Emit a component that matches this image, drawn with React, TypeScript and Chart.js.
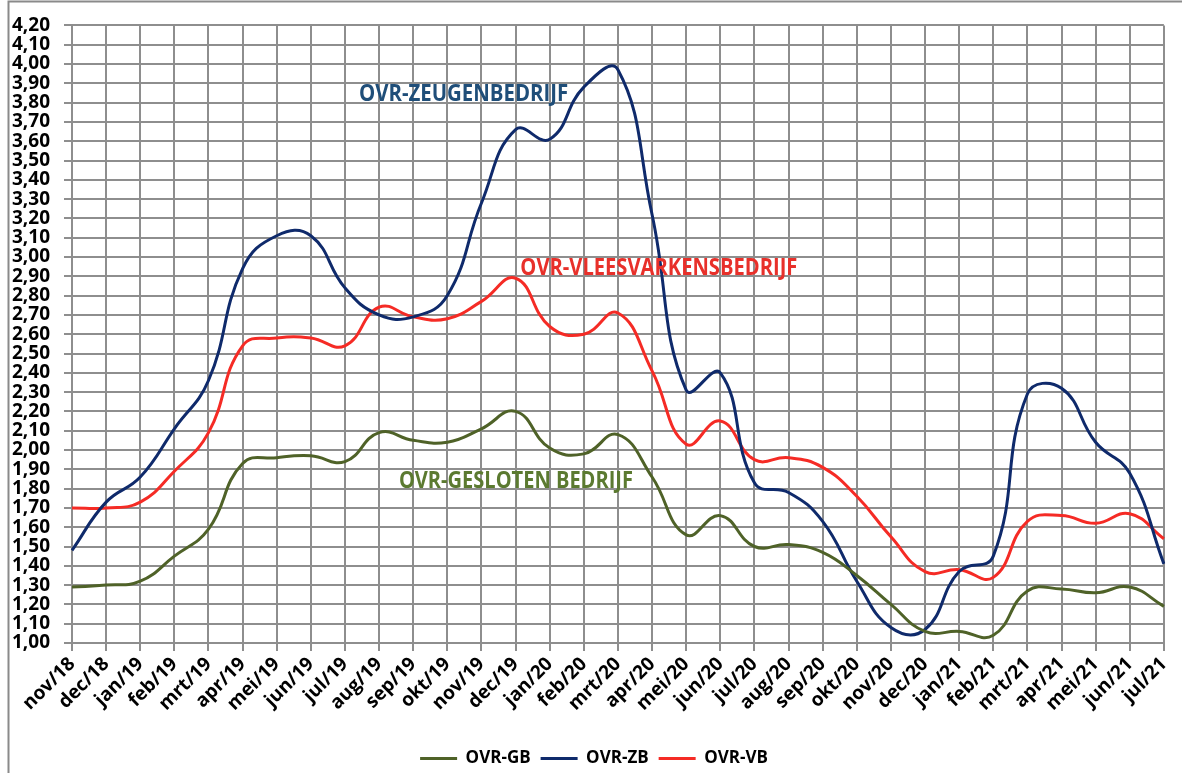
import React, { useEffect, useRef } from "react";
import { Chart, registerables } from "chart.js";

Chart.register(...registerables);

const months = ["nov/18","dec/18","jan/19","feb/19","mrt/19","apr/19","mei/19","jun/19","jul/19","aug/19","sep/19","okt/19","nov/19","dec/19","jan/20","feb/20","mrt/20","apr/20","mei/20","jun/20","jul/20","aug/20","sep/20","okt/20","nov/20","dec/20","jan/21","feb/21","mrt/21","apr/21","mei/21","jun/21","jul/21"];

const ovrGB = [1.29,1.30,1.32,1.45,1.59,1.93,1.96,1.97,1.94,2.09,2.05,2.04,2.11,2.20,2.01,1.98,2.08,1.86,1.56,1.66,1.50,1.51,1.47,1.35,1.20,1.06,1.06,1.04,1.27,1.28,1.26,1.29,1.19];
const ovrZB = [1.48,1.73,1.86,2.11,2.36,2.94,3.11,3.11,2.84,2.70,2.69,2.80,3.28,3.66,3.61,3.88,3.97,3.22,2.31,2.40,1.83,1.78,1.63,1.32,1.08,1.07,1.37,1.45,2.29,2.32,2.04,1.88,1.41];
const ovrVB = [1.70,1.70,1.73,1.89,2.09,2.54,2.58,2.58,2.54,2.74,2.69,2.68,2.77,2.89,2.64,2.60,2.71,2.41,2.03,2.15,1.95,1.96,1.91,1.76,1.55,1.37,1.38,1.34,1.63,1.66,1.62,1.67,1.54];

const seriesNames = ["OVR-GB", "OVR-ZB", "OVR-VB"];
const seriesColors = ["#4f6228", "#0f2a6b", "#f52b25"];

const yMin = 1.0;
const yMax = 4.2;
const yStep = 0.1;

// in-chart labels: text, x position (category index), baseline (y value), width (category units), colour
const annotationTexts = ["OVR-ZEUGENBEDRIJF", "OVR-VLEESVARKENSBEDRIJF", "OVR-GESLOTEN BEDRIJF"];
const annotationX = [8.41, 13.14, 9.58];
const annotationY = [3.81, 2.905, 1.805];
const annotationW = [6.13, 8.12, 6.86];
const annotationColors = ["#1f4e79", "#e8302a", "#5b7a30"];

const FONT = "'Open Sans', 'DejaVu Sans', sans-serif";
const GRID = "#8e8e8e";
const LEGEND_PAD = 10;
const LEGEND_TOP_Y = 740;
const LEGEND_SHIFT_X = 10;

const framePlugin = {
  id: "frame",
  beforeDraw(chart: any) {
    const { ctx, width, height } = chart;
    ctx.save();
    ctx.fillStyle = "#ffffff";
    ctx.fillRect(0, 0, width, height);
    ctx.strokeStyle = "#8a8a8a";
    ctx.lineWidth = 2;
    ctx.beginPath();
    ctx.moveTo(8.5, height);
    ctx.lineTo(8.5, 1.5);
    ctx.lineTo(width, 1.5);
    ctx.stroke();
    ctx.restore();
  },
};

const legendShiftPlugin = {
  id: "legendShift",
  afterLayout(chart: any) {
    const lg = chart.legend;
    if (!lg) return;
    const dy = LEGEND_TOP_Y - lg.top;
    lg.top += dy;
    lg.bottom += dy;
    lg.left += LEGEND_SHIFT_X;
    lg.right += LEGEND_SHIFT_X;
  },
};

const annotationPlugin = {
  id: "annots",
  afterDatasetsDraw(chart: any) {
    const { ctx } = chart;
    const xs = chart.scales.x;
    const ys = chart.scales.y;
    ctx.save();
    ctx.font = `bold 24px ${FONT}`;
    ctx.textAlign = "left";
    ctx.textBaseline = "alphabetic";
    annotationTexts.forEach((t, i) => {
      const x0 = xs.getPixelForValue(annotationX[i]);
      const x1 = xs.getPixelForValue(annotationX[i] + annotationW[i]);
      const y = ys.getPixelForValue(annotationY[i]);
      ctx.fillStyle = annotationColors[i];
      ctx.fillText(t, x0, y, x1 - x0);
    });
    ctx.restore();
  },
};

export default function App() {
  const ref = useRef<HTMLCanvasElement | null>(null);
  useEffect(() => {
    if (!ref.current) return;
    const values = [ovrGB, ovrZB, ovrVB];
    const chart = new Chart(ref.current, {
      type: "line",
      data: {
        labels: months,
        datasets: seriesNames.map((n, i) => ({
          label: n,
          data: values[i],
          borderColor: seriesColors[i],
          backgroundColor: seriesColors[i],
          borderWidth: 3,
          pointRadius: 0,
          pointHoverRadius: 0,
          tension: 0.45,
          fill: false,
        })),
      },
      options: {
        animation: false,
        responsive: false,
        maintainAspectRatio: false,
        devicePixelRatio: 1,
        layout: { padding: { left: 0, right: 14, top: 20, bottom: 0 } },
        plugins: {
          tooltip: { enabled: false },
          legend: {
            position: "bottom",
            labels: {
              usePointStyle: true,
              pointStyle: "line",
              pointStyleWidth: 37,
              boxHeight: 3,
              padding: LEGEND_PAD,
              color: "#000000",
              font: { family: FONT, size: 17, weight: "bold" },
            },
          },
        },
        scales: {
          x: {
            offset: false,
            grid: { color: GRID, lineWidth: 2, tickLength: 8, tickColor: GRID },
            border: { color: GRID, width: 2 },
            ticks: {
              autoSkip: false,
              minRotation: 45,
              maxRotation: 45,
              padding: 2,
              color: "#000000",
              font: { family: FONT, size: 19, weight: "bold" },
            },
            afterFit(scale: any) {
              scale.height = 93;
            },
          },
          y: {
            min: yMin,
            max: yMax,
            grid: { color: GRID, lineWidth: 2, tickLength: 8, tickColor: GRID },
            border: { color: GRID, width: 2 },
            ticks: {
              stepSize: yStep,
              autoSkip: false,
              padding: 14,
              color: "#000000",
              font: { family: FONT, size: 19, weight: "bold" },
              callback: (v: any) => Number(v).toFixed(2).replace(".", ","),
            },
            afterFit(scale: any) {
              scale.width = 72;
            },
          },
        },
      },
      plugins: [framePlugin, legendShiftPlugin, annotationPlugin],
    });
    return () => chart.destroy();
  }, []);
  return (
    <div style={{ position: "absolute", left: 0, top: 0, width: 1182, height: 773 }}>
      <canvas ref={ref} width={1182} height={773} style={{ width: 1182, height: 773, display: "block" }} />
    </div>
  );
}
